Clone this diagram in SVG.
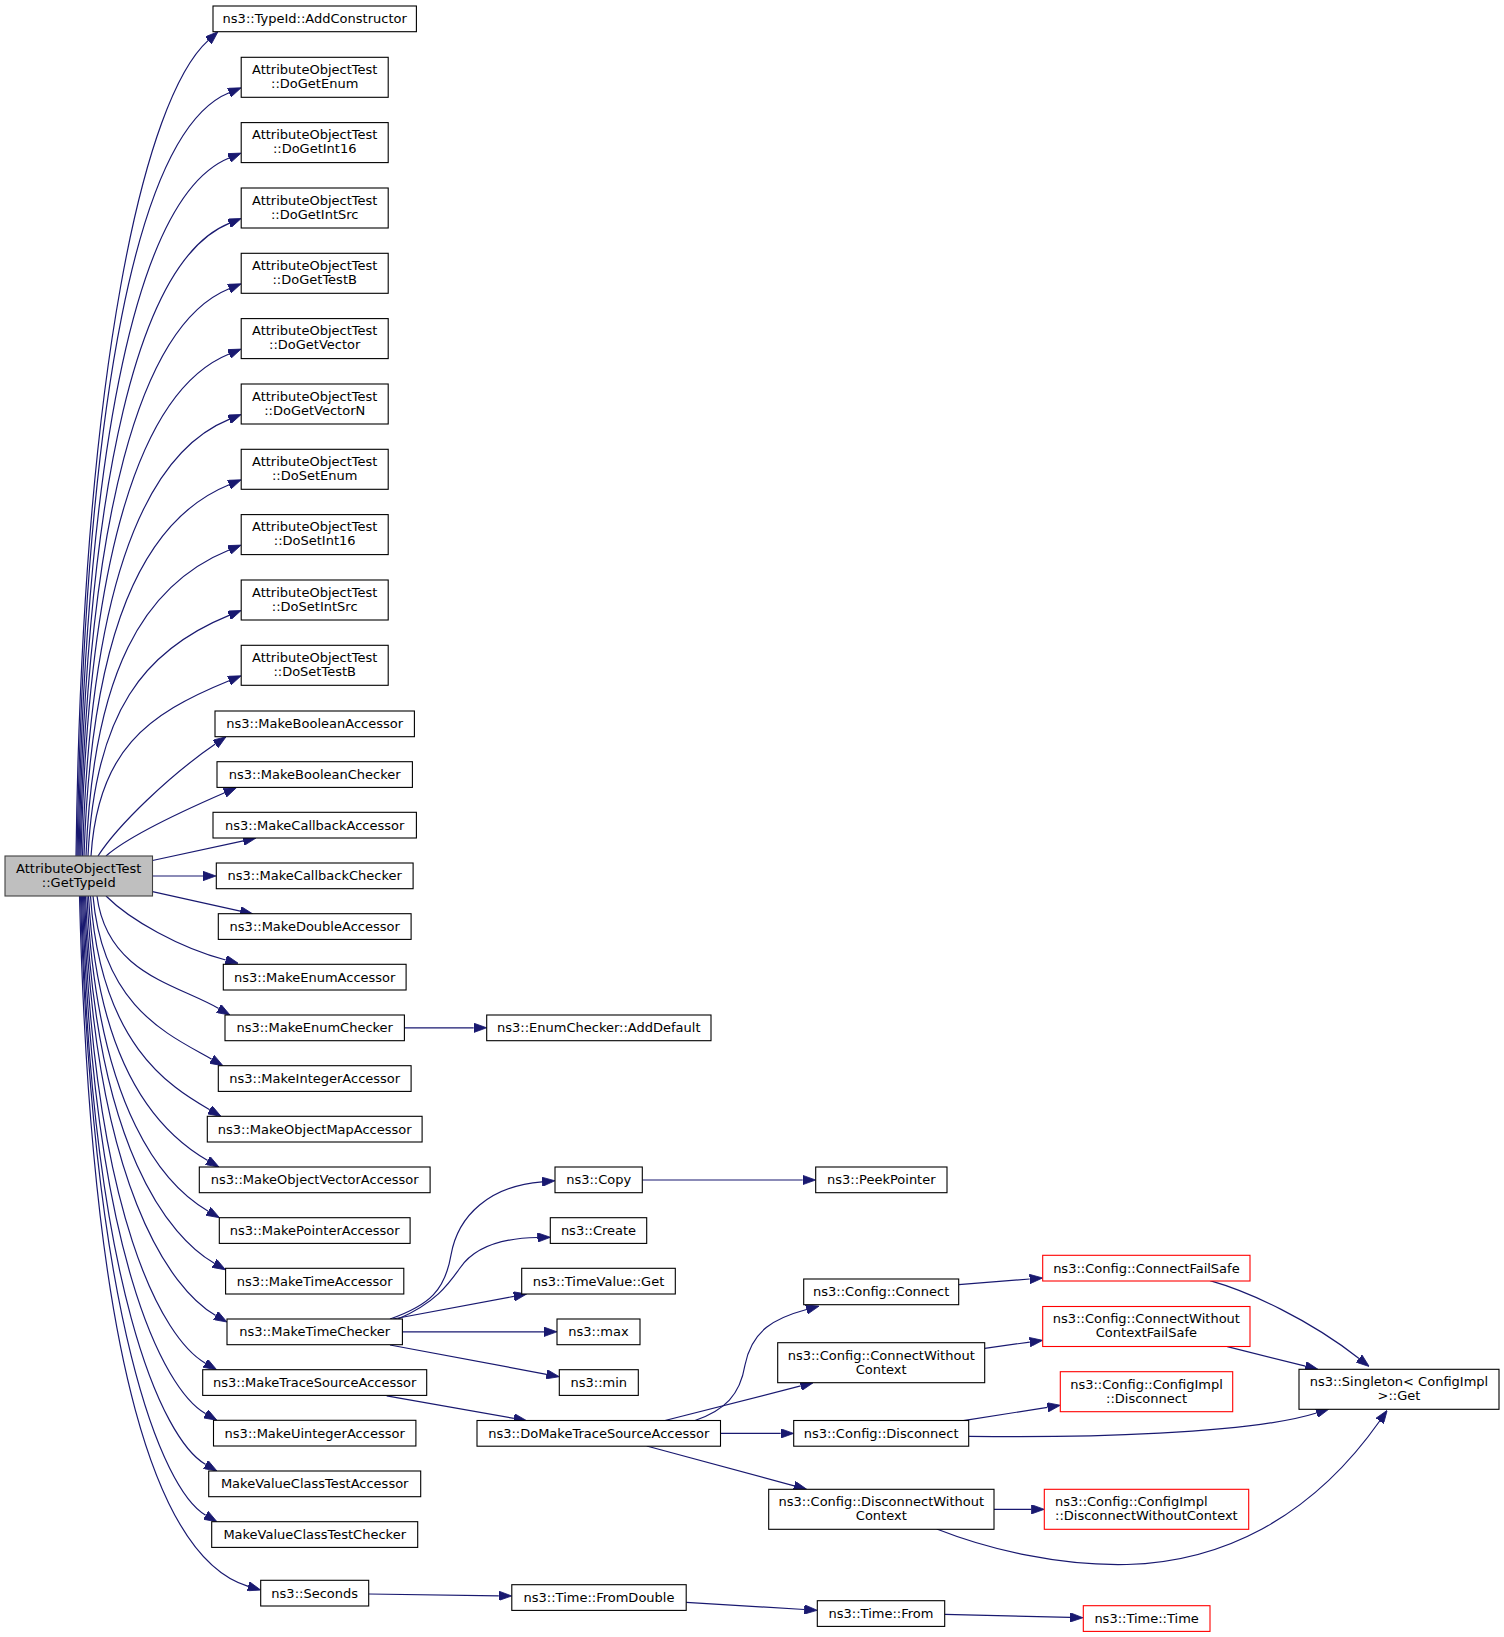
<svg xmlns="http://www.w3.org/2000/svg" width="1504" height="1637" viewBox="0 0 1504 1637">
<style>
rect{fill:#fff;stroke:#000;stroke-width:1.1}
.red rect{stroke:#ff0000}
.root rect{fill:#bfbfbf;stroke:#404040}
text{font-family:"DejaVu Sans","Liberation Sans",sans-serif;font-size:13px;fill:#000;text-anchor:middle}
.l{text-anchor:start}
#edges path{fill:none;stroke:#191970;stroke-width:1.2;marker-end:url(#ah)}
</style>
<defs>
<marker id="ah" viewBox="0 0 13 9.4" refX="0" refY="4.7" markerWidth="13" markerHeight="9.4" orient="auto" markerUnits="userSpaceOnUse">
<path d="M0,0 L13,4.7 L0,9.4 z" fill="#191970" stroke="#191970" stroke-width="0.8"/>
</marker>
</defs>
<rect x="0" y="0" width="1504" height="1637" style="fill:#fff;stroke:none"/>
<g id="edges">
<path d="M76,856 C82.6,366.6 144.4,97.9 208.3,40.4"/>
<path d="M77,856 C84.6,398 137.8,129.8 229.1,92.7"/>
<path d="M78,856 C85.6,437.2 138.4,194.9 229.1,158"/>
<path d="M79,856 C86.5,476.4 139,260 229.1,223.4"/>
<path d="M80,856 C87.5,515.6 139.6,325.1 229.1,288.7"/>
<path d="M81,856 C88.4,554.8 140.2,390.1 229.1,354"/>
<path d="M82.5,856 C89.8,594 141.1,455.2 229.1,419.4"/>
<path d="M84,856 C91.3,633.2 142,520.1 229.1,484.7"/>
<path d="M86,856 C93.2,672.4 143.2,584.9 229.1,550"/>
<path d="M88,856 C95.1,711.6 144.4,649.8 229.1,615.4"/>
<path d="M91,856 C97.9,750.8 146.2,714.4 229.1,680.7"/>
<path d="M98,856 C118,825 170,775 215.3,744.1"/>
<path d="M106,856 C130,835 185,810 224.6,792.8"/>
<path d="M152.5,860.5 L243.3,840.8"/>
<path d="M152.5,876 L203,876"/>
<path d="M152.5,891.7 L240.3,911.2"/>
<path d="M106,896 C130,920 180,948 225.7,960"/>
<path d="M97,896 C107,973.6 176.6,984.2 218.7,1008.5"/>
<path d="M93,896 C103,1008.6 170.6,1035.5 211.7,1059.2"/>
<path d="M90.5,896 C100.5,1043.5 168.5,1086 209.7,1109.8"/>
<path d="M88.5,896 C98.5,1078.5 166.5,1136.7 207.7,1160.5"/>
<path d="M87,896 C97,1113.5 166.3,1187 208.2,1211.2"/>
<path d="M85.5,896 C95.5,1149.4 169.7,1237.5 214.3,1263.3"/>
<path d="M84.5,896 C94.5,1185.5 170.3,1289.3 215.7,1315.5"/>
<path d="M83.5,896 C93.5,1218.4 163.2,1338.8 205.4,1363.2"/>
<path d="M82.5,896 C92.5,1253.3 163.1,1389.2 205.7,1413.8"/>
<path d="M81.5,896 C91.5,1288.3 162.7,1439.7 205.7,1464.5"/>
<path d="M80.5,896 C92.5,1323.2 162.4,1490.2 205.7,1515.2"/>
<path d="M79.5,896 C91.5,1372 160,1560 248.2,1586.3"/>
<path d="M404.4,1027.8 L473.7,1027.8"/>
<path d="M390,1319 C430,1305 445,1290 451,1255 C458,1215 490,1186 542,1181.8"/>
<path d="M398,1319 C435,1303 448,1285 460,1268 C475,1246 505,1238 537.5,1237.5"/>
<path d="M393,1319 L513.9,1296.4"/>
<path d="M402.4,1331.8 L544,1331.8"/>
<path d="M390,1345 L546.5,1374.3"/>
<path d="M642.3,1180 L802.7,1180"/>
<path d="M386.7,1395.8 L513.9,1418.4"/>
<path d="M695,1420.5 C725,1410 740,1395 745,1365 C752,1330 775,1318 806.5,1309.5"/>
<path d="M665,1420.5 L800.7,1385.9"/>
<path d="M720.5,1433.4 L780.7,1433.4"/>
<path d="M646.7,1446 L794.2,1485.9"/>
<path d="M958.7,1284.7 L1029.7,1279"/>
<path d="M984.7,1348.3 L1029.8,1342.1"/>
<path d="M963.3,1420.7 L1047.5,1407.3"/>
<path d="M968.7,1436.3 C1080,1438 1250,1434 1316.5,1413"/>
<path d="M994,1509.3 L1031.3,1509.3"/>
<path d="M936.7,1529 C990,1550 1060,1566 1127,1564.5 C1220,1562 1310,1520 1379.7,1421"/>
<path d="M1210,1280.7 C1250,1292 1310,1320 1359,1358.5"/>
<path d="M1227.3,1346.7 L1305.4,1366.2"/>
<path d="M368.7,1594 L498.8,1595.8"/>
<path d="M686.2,1602.3 L804.3,1609.5"/>
<path d="M944.7,1614.3 L1070,1617.4"/>
</g>
<g id="node_root" class="root"><rect x="5" y="856" width="147.5" height="40"/><text x="78.75" y="872.8">AttributeObjectTest</text><text x="78.75" y="886.8">::GetTypeId</text></g>
<g id="node_AddConstructor"><rect x="213" y="6" width="203.4" height="25.7"/><text x="314.7" y="23.3">ns3::TypeId::AddConstructor</text></g>
<g id="node_DoGetEnum"><rect x="241.2" y="57.3" width="147" height="40"/><text x="314.7" y="74.1">AttributeObjectTest</text><text x="314.7" y="88.1">::DoGetEnum</text></g>
<g id="node_DoGetInt16"><rect x="241.2" y="122.6" width="147" height="40"/><text x="314.7" y="139.4">AttributeObjectTest</text><text x="314.7" y="153.4">::DoGetInt16</text></g>
<g id="node_DoGetIntSrc"><rect x="241.2" y="188" width="147" height="40"/><text x="314.7" y="204.8">AttributeObjectTest</text><text x="314.7" y="218.8">::DoGetIntSrc</text></g>
<g id="node_DoGetTestB"><rect x="241.2" y="253.3" width="147" height="40"/><text x="314.7" y="270.1">AttributeObjectTest</text><text x="314.7" y="284.1">::DoGetTestB</text></g>
<g id="node_DoGetVector"><rect x="241.2" y="318.6" width="147" height="40"/><text x="314.7" y="335.4">AttributeObjectTest</text><text x="314.7" y="349.4">::DoGetVector</text></g>
<g id="node_DoGetVectorN"><rect x="241.2" y="384" width="147" height="40"/><text x="314.7" y="400.8">AttributeObjectTest</text><text x="314.7" y="414.8">::DoGetVectorN</text></g>
<g id="node_DoSetEnum"><rect x="241.2" y="449.3" width="147" height="40"/><text x="314.7" y="466.1">AttributeObjectTest</text><text x="314.7" y="480.1">::DoSetEnum</text></g>
<g id="node_DoSetInt16"><rect x="241.2" y="514.6" width="147" height="40"/><text x="314.7" y="531.4">AttributeObjectTest</text><text x="314.7" y="545.4">::DoSetInt16</text></g>
<g id="node_DoSetIntSrc"><rect x="241.2" y="580" width="147" height="40"/><text x="314.7" y="596.8">AttributeObjectTest</text><text x="314.7" y="610.8">::DoSetIntSrc</text></g>
<g id="node_DoSetTestB"><rect x="241.2" y="645.3" width="147" height="40"/><text x="314.7" y="662.1">AttributeObjectTest</text><text x="314.7" y="676.1">::DoSetTestB</text></g>
<g id="node_MakeBooleanAccessor"><rect x="215" y="711" width="199.4" height="25.7"/><text x="314.7" y="728.3">ns3::MakeBooleanAccessor</text></g>
<g id="node_MakeBooleanChecker"><rect x="217" y="761.7" width="195.4" height="25.7"/><text x="314.7" y="779">ns3::MakeBooleanChecker</text></g>
<g id="node_MakeCallbackAccessor"><rect x="213" y="812.3" width="203.4" height="25.7"/><text x="314.7" y="829.6">ns3::MakeCallbackAccessor</text></g>
<g id="node_MakeCallbackChecker"><rect x="216.3" y="863" width="196.8" height="25.7"/><text x="314.7" y="880.3">ns3::MakeCallbackChecker</text></g>
<g id="node_MakeDoubleAccessor"><rect x="218.3" y="913.7" width="192.8" height="25.7"/><text x="314.7" y="931">ns3::MakeDoubleAccessor</text></g>
<g id="node_MakeEnumAccessor"><rect x="223.3" y="964.3" width="182.8" height="25.7"/><text x="314.7" y="981.6">ns3::MakeEnumAccessor</text></g>
<g id="node_MakeEnumChecker"><rect x="225" y="1015" width="179.4" height="25.7"/><text x="314.7" y="1032.3">ns3::MakeEnumChecker</text></g>
<g id="node_MakeIntegerAccessor"><rect x="218.3" y="1065.7" width="192.8" height="25.7"/><text x="314.7" y="1083">ns3::MakeIntegerAccessor</text></g>
<g id="node_MakeObjectMapAccessor"><rect x="207.3" y="1116.3" width="214.8" height="25.7"/><text x="314.7" y="1133.6">ns3::MakeObjectMapAccessor</text></g>
<g id="node_MakeObjectVectorAccessor"><rect x="199.3" y="1167" width="230.8" height="25.7"/><text x="314.7" y="1184.3">ns3::MakeObjectVectorAccessor</text></g>
<g id="node_MakePointerAccessor"><rect x="219.3" y="1217.7" width="190.8" height="25.7"/><text x="314.7" y="1235">ns3::MakePointerAccessor</text></g>
<g id="node_MakeTimeAccessor"><rect x="225.6" y="1268.3" width="178.2" height="25.7"/><text x="314.7" y="1285.6">ns3::MakeTimeAccessor</text></g>
<g id="node_MakeTimeChecker"><rect x="227" y="1319" width="175.4" height="25.7"/><text x="314.7" y="1336.3">ns3::MakeTimeChecker</text></g>
<g id="node_MakeTraceSourceAccessor"><rect x="202.7" y="1369.7" width="224" height="25.7"/><text x="314.7" y="1387">ns3::MakeTraceSourceAccessor</text></g>
<g id="node_MakeUintegerAccessor"><rect x="213.5" y="1420.3" width="202.4" height="25.7"/><text x="314.7" y="1437.6">ns3::MakeUintegerAccessor</text></g>
<g id="node_MakeValueClassTestAccessor"><rect x="208.7" y="1471" width="212" height="25.7"/><text x="314.7" y="1488.3">MakeValueClassTestAccessor</text></g>
<g id="node_MakeValueClassTestChecker"><rect x="211.7" y="1521.7" width="206" height="25.7"/><text x="314.7" y="1539">MakeValueClassTestChecker</text></g>
<g id="node_Seconds"><rect x="260.7" y="1580.3" width="108" height="25.7"/><text x="314.7" y="1597.6">ns3::Seconds</text></g>
<g id="node_AddDefault"><rect x="486.7" y="1015" width="224.3" height="25.7"/><text x="598.8" y="1032.3">ns3::EnumChecker::AddDefault</text></g>
<g id="node_Copy"><rect x="555" y="1167" width="87.3" height="25.7"/><text x="598.7" y="1184.3">ns3::Copy</text></g>
<g id="node_Create"><rect x="550.3" y="1217.7" width="96.4" height="25.7"/><text x="598.5" y="1235">ns3::Create</text></g>
<g id="node_TimeValueGet"><rect x="521.7" y="1268.3" width="153.6" height="25.7"/><text x="598.5" y="1285.6">ns3::TimeValue::Get</text></g>
<g id="node_max"><rect x="557" y="1319" width="83" height="25.7"/><text x="598.5" y="1336.3">ns3::max</text></g>
<g id="node_min"><rect x="559.3" y="1369.7" width="79" height="25.7"/><text x="598.8" y="1387">ns3::min</text></g>
<g id="node_DoMakeTraceSourceAccessor"><rect x="477" y="1420.5" width="243.5" height="25.7"/><text x="598.75" y="1437.8">ns3::DoMakeTraceSourceAccessor</text></g>
<g id="node_FromDouble"><rect x="511.8" y="1584.7" width="174.4" height="25.7"/><text x="599" y="1602">ns3::Time::FromDouble</text></g>
<g id="node_PeekPointer"><rect x="815.7" y="1167" width="131.3" height="25.7"/><text x="881.3" y="1184.3">ns3::PeekPointer</text></g>
<g id="node_ConfigConnect"><rect x="803.7" y="1279" width="155" height="25.7"/><text x="881.2" y="1296.3">ns3::Config::Connect</text></g>
<g id="node_ConfigConnectWithoutContext"><rect x="777.7" y="1342.7" width="207" height="40"/><text x="881.2" y="1359.5">ns3::Config::ConnectWithout</text><text x="881.2" y="1373.5">Context</text></g>
<g id="node_ConfigDisconnect"><rect x="793.7" y="1420.5" width="175" height="25.7"/><text x="881.2" y="1437.8">ns3::Config::Disconnect</text></g>
<g id="node_ConfigDisconnectWithoutContext"><rect x="768.7" y="1489.3" width="225.3" height="40"/><text x="881.3" y="1506.1">ns3::Config::DisconnectWithout</text><text x="881.3" y="1520.1">Context</text></g>
<g id="node_TimeFrom"><rect x="817.3" y="1600.7" width="127.4" height="25.7"/><text x="881" y="1618">ns3::Time::From</text></g>
<g id="node_ConnectFailSafe" class="red"><rect x="1042.7" y="1255.3" width="207.3" height="25.7"/><text x="1146.4" y="1272.6">ns3::Config::ConnectFailSafe</text></g>
<g id="node_ConnectWithoutContextFailSafe" class="red"><rect x="1042.7" y="1306.5" width="207.3" height="40"/><text x="1146.4" y="1323.3">ns3::Config::ConnectWithout</text><text x="1146.4" y="1337.3">ContextFailSafe</text></g>
<g id="node_ConfigImplDisconnect" class="red"><rect x="1060.3" y="1371.7" width="172.4" height="40"/><text x="1146.5" y="1388.5">ns3::Config::ConfigImpl</text><text x="1146.5" y="1402.5">::Disconnect</text></g>
<g id="node_ConfigImplDisconnectWithoutContext" class="red"><rect x="1044.3" y="1489.3" width="204.4" height="40"/><text class="l" x="1055" y="1506.1">ns3::Config::ConfigImpl</text><text class="l" x="1055" y="1520.1">::DisconnectWithoutContext</text></g>
<g id="node_TimeTime" class="red"><rect x="1083.3" y="1605.7" width="126.7" height="25.7"/><text x="1146.6" y="1623">ns3::Time::Time</text></g>
<g id="node_SingletonGet"><rect x="1299" y="1369.3" width="200" height="40"/><text x="1399" y="1386.1">ns3::Singleton&lt; ConfigImpl</text><text x="1399" y="1400.1">&gt;::Get</text></g>
</svg>
